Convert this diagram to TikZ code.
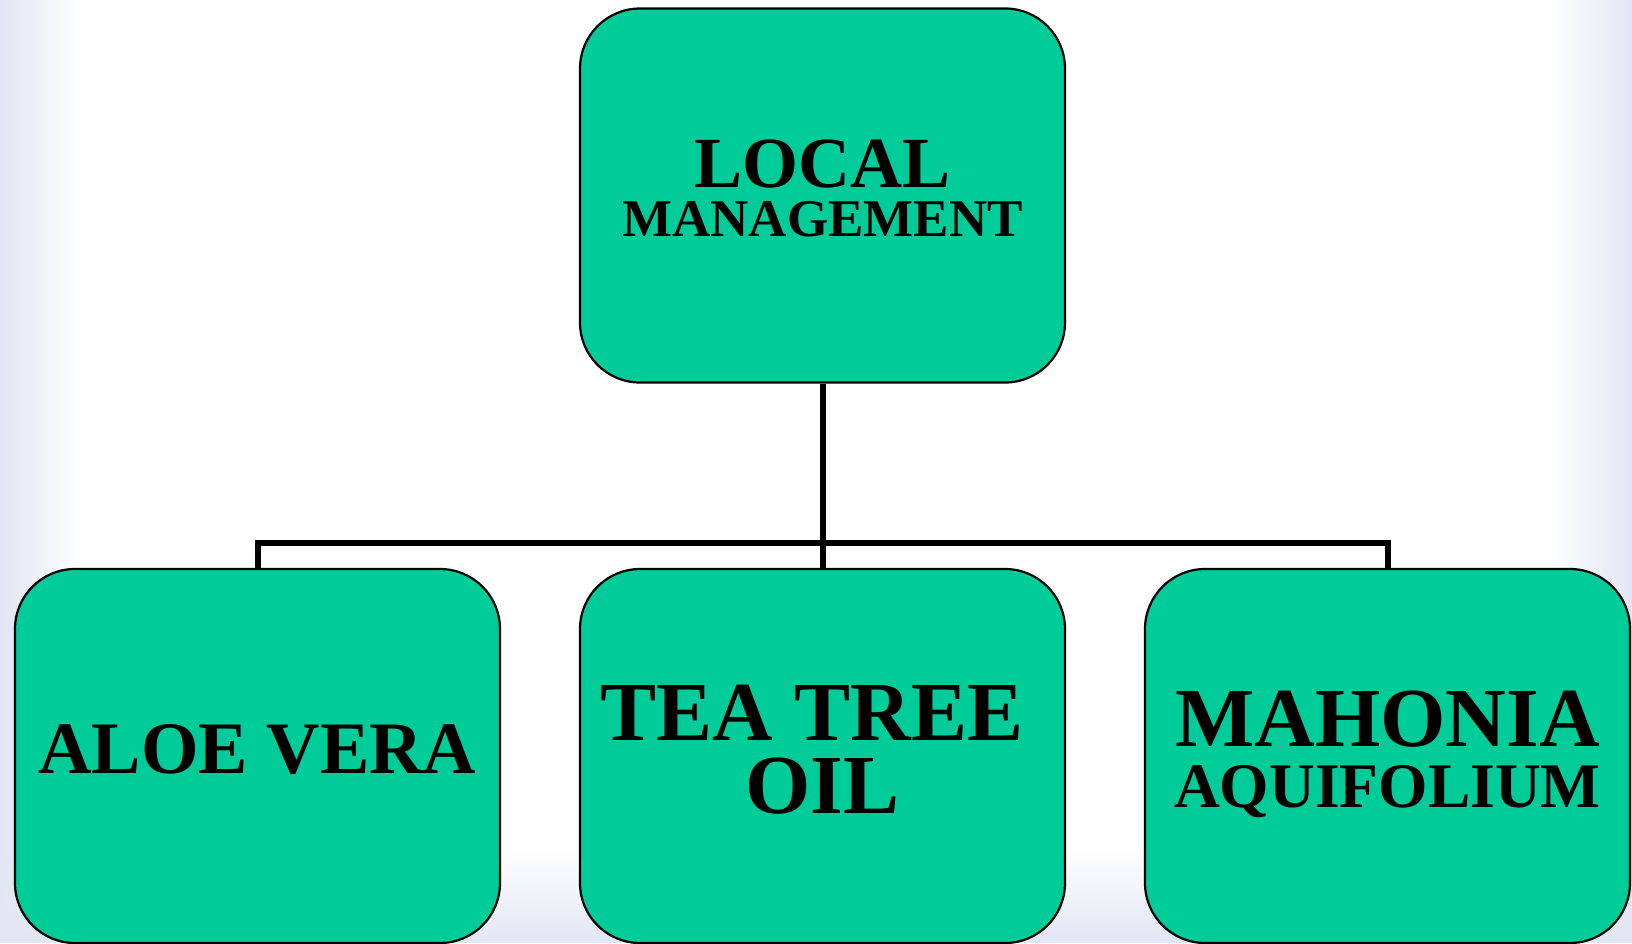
\documentclass[tikz,border=0pt]{standalone}
\usepackage{fontspec}
\setmainfont{Liberation Serif}
\usetikzlibrary{fadings}

\definecolor{boxgreen}{RGB}{0,204,153}
\definecolor{edgeblue}{RGB}{226,230,244}

\newcommand{\bigline}[2]{{\fontsize{#1}{#1}\selectfont #2}}

\begin{document}
\begin{tikzpicture}[x=1pt, y=-1pt,
  box/.style={draw=black, line width=2.2pt, fill=boxgreen, rounded corners=60pt,
    minimum width=485pt, minimum height=374pt, inner sep=0pt, align=center,
    text depth=14pt},
  link/.style={draw=black, line width=6pt}]

  % page and its pale edges
  \useasboundingbox (0,0) rectangle (1632,943);
  \fill[white] (0,0) rectangle (1632,943);
  \fill[edgeblue, path fading=north] (0,850) rectangle (1632,943);
  \fill[edgeblue, path fading=east] (0,0) rectangle (80,943);
  \fill[edgeblue, path fading=west] (1552,0) rectangle (1632,943);

  \node[box, font=\bfseries\fontsize{72}{49}\selectfont] (root) at (822.5,195.5)
    {LOCAL\\\bigline{53}{MANAGEMENT}};

  \foreach \n/\x/\sz/\sk/\txt in {
      1/257.5/74/74/{ALOE VERA},
      2/822.5/84/73/{TEA TREE\kern0.25em\\OIL},
      3/1387.5/84/61/{MAHONIA\\\bigline{63.5}{AQUIFOLIUM}}} {
    \node[box, font=\bfseries\fontsize{\sz}{\sk}\selectfont] (kid-\n) at (\x,756) {\txt};
  }

  \coordinate (bar) at (822.5,543);
  \draw[link] (root.south) -- (bar);
  \foreach \n in {1, 2, 3} {
    \draw[link] (bar) -| (kid-\n.north);
  }

\end{tikzpicture}
\end{document}
